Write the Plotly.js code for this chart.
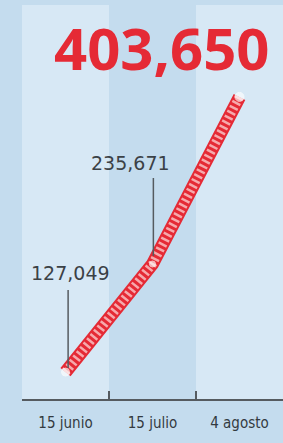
<!DOCTYPE html>
<html><head><meta charset="utf-8">
<script src="https://cdn.plot.ly/plotly-3.0.1.min.js"></script>
<style>html,body{margin:0;padding:0;background:#c4dcee;}#c{width:283px;height:443px;}</style>
</head><body><div id="c"></div>
<script>
const categories = ["15 junio", "15 julio", "4 agosto"];
const values = [127049, 235671, 403650];
const labels = ["127,049", "235,671", "403,650"];

const mid = "#c4dcee", light = "#d7e8f5", red = "#e52a35";

const traces = [
  {x: categories, y: values, type: "scatter", mode: "lines",
   line: {color: red, width: 13}, hoverinfo: "skip"},
  {x: categories, y: values, type: "scatter", mode: "lines",
   line: {color: "#f6a9ac", width: 9, dash: "2.5px,3px"}, hoverinfo: "skip"},
  {x: categories, y: values, type: "scatter", mode: "markers",
   marker: {color: "rgba(255,255,255,0.9)", size: [8, 6, 9]}, hoverinfo: "skip"}
];

const shapes = [
  {type: "rect", xref: "x", yref: "paper", x0: -0.5, x1: 0.5, y0: 0, y1: 1,
   fillcolor: light, line: {width: 0}, layer: "below"},
  {type: "rect", xref: "x", yref: "paper", x0: 1.5, x1: 2.5, y0: 0, y1: 1,
   fillcolor: light, line: {width: 0}, layer: "below"},
  {type: "line", xref: "x", yref: "y", ysizemode: "pixel", yanchor: values[0],
   x0: 0.03, x1: 0.03, y0: 4, y1: 82, line: {color: "#555b60", width: 1.5}},
  {type: "line", xref: "x", yref: "y", ysizemode: "pixel", yanchor: values[1],
   x0: 1.01, x1: 1.01, y0: 8, y1: 86, line: {color: "#555b60", width: 1.5}}
];

const annotations = [
  {x: categories[0], y: values[0], xref: "x", yref: "y", yshift: 99, xshift: 5,
   text: labels[0], showarrow: false,
   font: {family: "DejaVu Sans", size: 19, color: "#3b4146"}},
  {x: categories[1], y: values[1], xref: "x", yref: "y", yshift: 101, xshift: -22,
   text: labels[1], showarrow: false,
   font: {family: "DejaVu Sans", size: 19, color: "#3b4146"}},
  {x: categories[2], y: values[2], xref: "x", yref: "y", yshift: 49, xshift: -78,
   text: "<b>" + labels[2] + "</b>", showarrow: false,
   font: {family: "Open Sans", size: 58, color: red}}
];

const layout = {
  width: 283, height: 443,
  margin: {l: 22, r: 0, t: 5, b: 44},
  paper_bgcolor: mid, plot_bgcolor: mid,
  showlegend: false,
  xaxis: {type: "category", tickson: "boundaries", ticks: "inside", ticklen: 8,
          tickwidth: 1.5, tickcolor: "#555b60", showline: true, linecolor: "#555b60",
          linewidth: 1.5, showgrid: false, zeroline: false, fixedrange: true,
          ticklabelstandoff: 9,
          tickfont: {family: "DejaVu Sans Condensed", size: 15, color: "#333a40"}},
  yaxis: {visible: false, range: [100000, 496000], fixedrange: true},
  shapes: shapes, annotations: annotations
};

Plotly.newPlot("c", traces, layout, {displayModeBar: false, staticPlot: true});
</script></body></html>
